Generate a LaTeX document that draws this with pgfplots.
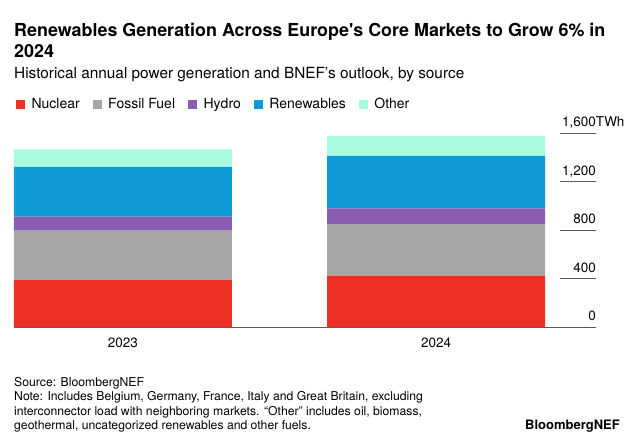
\documentclass[border=0pt]{standalone}
\usepackage{fontspec}
\setmainfont{TeX Gyre Heros}
\usepackage{pgfplots}
\pgfplotsset{compat=1.18}
\definecolor{cNuc}{HTML}{ED3124}
\definecolor{cFos}{HTML}{A6A6A6}
\definecolor{cHyd}{HTML}{8A5DB2}
\definecolor{cRen}{HTML}{0F9AD8}
\definecolor{cOth}{HTML}{A8FAE0}
\definecolor{axgray}{HTML}{5A5A5A}
\pgfplotsset{sq/.style={legend image code/.code={\fill[##1] (0pt,0pt) rectangle (9pt,9pt);}}}
\begin{document}
\begin{tikzpicture}
\path (0,0) rectangle (640pt,-445pt);
\node[anchor=base west, inner sep=0pt, font=\fontsize{17.9}{20}\selectfont\bfseries] at (14pt,-36.7pt) {Renewables Generation Across Europe\textquotesingle s Core Markets to Grow 6\% in};
\node[anchor=base west, inner sep=0pt, font=\fontsize{17.9}{20}\selectfont\bfseries] at (14pt,-57.3pt) {2024};
\node[anchor=base west, inner sep=0pt, font=\fontsize{15.35}{18}\selectfont] at (14pt,-78.3pt) {Historical annual power generation and BNEF’s outlook, by source};
\begin{axis}[
  at={(14pt,-327.3pt)}, anchor=south west,
  scale only axis, width=582pt, height=194pt,
  xmin=-0.348, xmax=1.511, ymin=0, ymax=1600,
  ybar stacked, bar width=218pt,
  axis line style={draw=none},
  xtick={0,1}, xticklabels={2023,2024},
  major x tick style={draw=none},
  xticklabel style={anchor=base, inner sep=0pt, yshift=-20pt, font=\fontsize{13.5}{16}\selectfont},
  ytick={0,400,800,1200,1600},
  yticklabels={0,400,800,{1,200},{1,600\rlap{TWh}}},
  ytick pos=right, yticklabel pos=right,
  major y tick style={draw=none},
  yticklabel style={anchor=base east, inner sep=0pt, yshift=6.7pt, font=\fontsize{13.5}{16}\selectfont},
  legend columns=5,
  legend style={at={(rel axis cs:0,1)}, anchor=south west, xshift=2pt, yshift=23pt,
    draw=none, fill=none, inner sep=0pt, outer sep=0pt,
    font=\fontsize{14}{16}\selectfont,
    nodes={inner sep=0pt, anchor=base west},
    /tikz/every odd column/.style={column sep=6.5pt},
    /tikz/every even column/.style={column sep=13pt}},
  legend cell align=left,
  clip=false,
]
\addplot[fill=cNuc, draw=none, sq] coordinates {(0,390) (1,426)};
\addlegendentry{Nuclear}
\addplot[fill=cFos, draw=none, sq] coordinates {(0,407) (1,426)};
\addlegendentry{Fossil Fuel}
\addplot[fill=cHyd, draw=none, sq] coordinates {(0,115) (1,129)};
\addlegendentry{Hydro}
\addplot[fill=cRen, draw=none, sq] coordinates {(0,412) (1,432)};
\addlegendentry{Renewables}
\addplot[fill=cOth, draw=none, sq] coordinates {(0,144) (1,165)};
\addlegendentry{Other}
\draw[axgray, line width=0.8pt] (rel axis cs:0,0) -- (rel axis cs:1,0);
\draw[axgray, line width=0.8pt] (axis cs:1.396,400) -- (rel axis cs:1,0.25);
\draw[axgray, line width=0.8pt] (axis cs:1.396,800) -- (rel axis cs:1,0.5);
\draw[axgray, line width=0.8pt] (axis cs:1.396,1200) -- (rel axis cs:1,0.75);
\draw[axgray, line width=0.8pt] (axis cs:1.396,1600) -- (rel axis cs:1,1);
\end{axis}
\begin{scope}[every node/.style={anchor=base west, inner sep=0pt, font=\fontsize{12.2}{14}\selectfont}]
\node at (14pt,-386pt) {Source: BloombergNEF};
\node at (14pt,-400.5pt) {Note: Includes Belgium, Germany, France, Italy and Great Britain, excluding};
\node at (14pt,-415pt) {interconnector load with neighboring markets. “Other” includes oil, biomass,};
\node at (14pt,-429.3pt) {geothermal, uncategorized renewables and other fuels.};
\end{scope}
\node[anchor=base east, inner sep=0pt, font=\fontsize{13}{15}\selectfont\bfseries] at (620pt,-429.3pt) {BloombergNEF};
\end{tikzpicture}
\end{document}
